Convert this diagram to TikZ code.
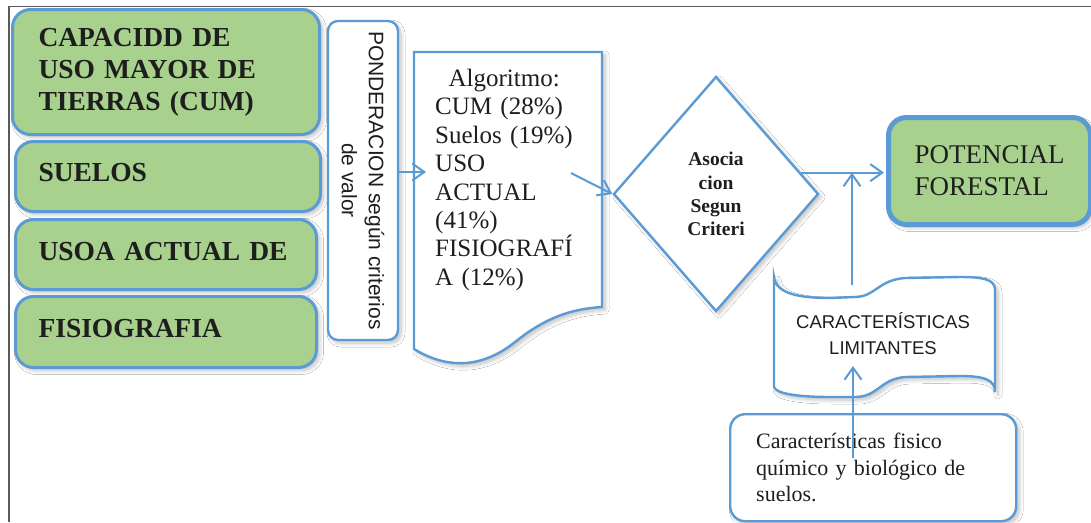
\documentclass[tikz,border=0pt]{standalone}
\usepackage{fontspec}
\setmainfont{Liberation Serif}
\setsansfont{Liberation Sans}
\usetikzlibrary{arrows.meta,shapes.geometric,calc,shadows.blur}

\definecolor{edgeblue}{HTML}{5B9BD5}
\definecolor{leafgreen}{HTML}{A9D18E}
\definecolor{ink}{HTML}{1E1E1E}
\definecolor{framegray}{HTML}{5A5A5A}

\begin{document}
\begin{tikzpicture}[x=1pt,y=-1pt,
  soft/.style={blur shadow={shadow xshift=3pt,shadow yshift=-3pt,shadow blur radius=4pt,shadow blur steps=8,shadow opacity=25}},
  greenbox/.style={draw=edgeblue,line width=3pt,fill=leafgreen,rounded corners=18pt,soft,
    anchor=north west,inner xsep=0pt,inner ysep=0pt,align=left,text=ink,
    font=\bfseries\fontsize{27.5}{32}\selectfont},
  whitebox/.style={draw=edgeblue,line width=2.4pt,fill=white,soft},
  link/.style={draw=edgeblue,line width=2pt,-{Straight Barb[length=12pt,width=17pt]}},
]
\useasboundingbox (0,0) rectangle (1091,522);
\fill[white] (0,0) rectangle (1091,522);
% page frame
\draw[framegray,line width=1.3pt] (9,522) -- (9,6.5) -- (1091,6.5);

% input layers
\node[greenbox,minimum width=307pt,minimum height=125pt,text width=255pt] (cum) at (11,8)
  {CAPACIDD DE\\USO MAYOR DE\\TIERRAS (CUM)};
\node[greenbox,minimum width=305pt,minimum height=70pt,text width=259pt,text height=19pt,text depth=9pt] (suelos) at (14,140) {SUELOS};
\node[greenbox,minimum width=301pt,minimum height=70pt,text width=255pt,text height=19pt,text depth=8pt] (uso) at (14,218) {USOA ACTUAL DE};
\node[greenbox,minimum width=301pt,minimum height=71pt,text width=255pt,text height=19pt,text depth=8pt] (fisio) at (14,295) {FISIOGRAFIA};

% weighting
\node[whitebox,rounded corners=10pt,rotate=-90,minimum width=319pt,minimum height=70pt,inner sep=0pt,
  align=center,text=ink,font=\sffamily\fontsize{21}{27}\selectfont] (pond) at (363,180.5)
  {PONDERACION según criterios\\de valor};

% algorithm document
\draw[whitebox] (414,52) -- (602,52) -- (602,307)
  .. controls (570,309) and (545,318) .. (515,342)
  .. controls (480,370) and (445,368) .. (414,349) -- cycle;
\node[anchor=north west,inner sep=0pt,text width=140pt,align=left,text=ink,
  font=\fontsize{25}{28.4}\selectfont] (alg) at (435,69)
  {\makebox[138pt]{Algoritmo:}\\CUM (28\%)\\Suelos (19\%)\\USO\\ACTUAL\\(41\%)\\FISIOGRAFÍ\\A (12\%)};

% decision
\node[whitebox,diamond,minimum width=205pt,minimum height=235pt,inner sep=0pt,align=center,text=ink,
  font=\bfseries\fontsize{19.5}{23.3}\selectfont] (asoc) at (716,194)
  {Asocia\\cion\\Segun\\Criteri};

% result
\node[draw=edgeblue,line width=5pt,fill=leafgreen,rounded corners=18pt,soft,anchor=north west,
  minimum width=202pt,minimum height=107pt,inner xsep=0pt,text width=150pt,align=left,text=ink,
  font=\fontsize{27}{32}\selectfont] (pot) at (886,115) {POTENCIAL\\FORESTAL};

% limiting characteristics (tape)
\draw[whitebox] (774,277) .. controls (776,294) and (800,298) .. (830,298) -- (855,297)
  .. controls (875,297) and (878,280) .. (905,278) -- (960,277)
  .. controls (985,277) and (995,280) .. (995,290) -- (995,392)
  .. controls (995,380) and (985,376) .. (960,376) -- (905,377)
  .. controls (880,379) and (878,397) .. (855,397) -- (830,397)
  .. controls (800,397) and (776,394) .. (774,387) -- cycle;
\node[anchor=north,inner sep=0pt,align=center,text=ink,font=\sffamily\fontsize{18.5}{26}\selectfont] (lim) at (883,312)
  {CARACTERÍSTICAS\\LIMITANTES};

% soil properties
\node[whitebox,rounded corners=15pt,anchor=north west,minimum width=286pt,minimum height=107pt,inner xsep=0pt,
  text width=234pt,align=left,text=ink,font=\fontsize{22}{26.5}\selectfont] (fq) at (729,413)
  {Características fisico\\químico y biológico de\\suelos.};

% connectors
\coordinate (algin) at (426,172);
\draw[link] (pond.north |- algin) -- (algin);
\coordinate (algout) at (571,173);
\draw[link] (algout) -- (asoc.west);
\coordinate (asocout) at ($(asoc.north)!0.82!(asoc.east)$);
\draw[link,shorten >=2pt] (asocout) -- (asocout -| pot.west);
\coordinate (tapetop) at (852,285);
\draw[link] (tapetop) -- (tapetop |- asocout);
\coordinate (fqsrc) at (853,458);
\coordinate (limin) at (853,366);
\draw[link] (fqsrc) -- (limin);
\end{tikzpicture}
\end{document}
